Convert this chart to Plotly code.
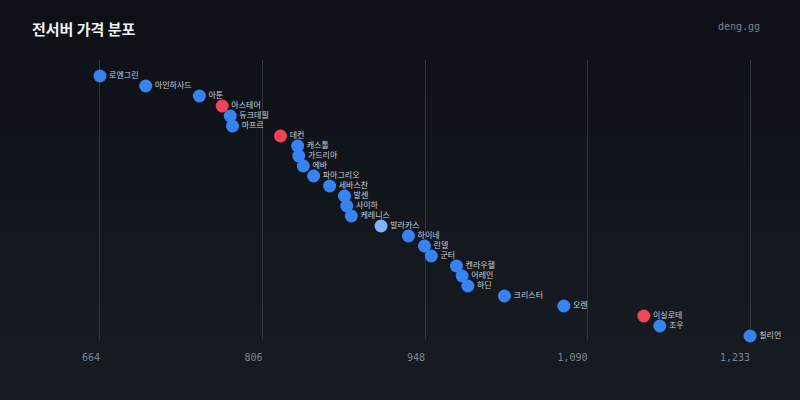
import plotly.graph_objects as go

# server names, sorted by price (low -> high)
servers = ['로엔그린', '아인하사드', '아툰', '아스테어', '듀크데필', '마프르', '데컨',
           '캐스톨', '가드리아', '에바', '파아그리오', '세바스찬', '발센', '사이하',
           '케레니스', '발라카스', '하이네', '린델', '군터', '켄라우헬', '어레인',
           '하딘', '크리스터', '오렌', '이실로테', '조우', '칠리언']
prices = [664, 704, 751, 771, 778, 780, 822, 837, 838, 842, 851, 865, 878, 880,
          884, 910, 934, 948, 954, 976, 981, 986, 1018, 1070, 1140, 1154, 1233]
red_servers = ['아스테어', '데컨', '이실로테']
light_servers = ['발라카스']
tick_vals = [664, 806.25, 948.5, 1090.75, 1233]
tick_text = ['664', '806', '948', '1,090', '1,233']

BLUE = '#3584f2'
RED = '#ef4459'
LIGHT = '#7db4f8'

colors = []
for s in servers:
    if s in red_servers:
        colors.append(RED)
    elif s in light_servers:
        colors.append(LIGHT)
    else:
        colors.append(BLUE)

fig = go.Figure()
fig.add_trace(go.Scatter(
    x=prices,
    y=list(range(len(servers))),
    mode='markers+text',
    text=servers,
    textposition='middle right',
    textfont=dict(family='Noto Sans CJK KR', size=8, color='#c9d1d9'),
    marker=dict(size=13, color=colors, line=dict(width=0)),
    cliponaxis=False,
    hoverinfo='skip',
))

# background gradient (dark top -> slightly lighter bottom)
top = (13, 17, 23)
bot = (23, 27, 34)
n = 24
shapes = []
for i in range(n):
    t = i / (n - 1)
    c = tuple(round(top[k] + (bot[k] - top[k]) * t) for k in range(3))
    y1 = 1.215 - i * (1.43 / n)
    y0 = y1 - 1.43 / n - 0.002
    shapes.append(dict(type='rect', xref='paper', yref='paper',
                       x0=-0.2, x1=1.2, y0=y0, y1=y1,
                       fillcolor='rgb(%d,%d,%d)' % c, line=dict(width=0),
                       layer='below'))

fig.update_layout(
    width=800, height=400,
    margin=dict(l=60, r=20, t=60, b=60),
    paper_bgcolor='#12161d',
    plot_bgcolor='rgba(0,0,0,0)',
    showlegend=False,
    shapes=shapes,
    xaxis=dict(
        range=[629.0, 1259.2],
        tickvals=tick_vals, ticktext=tick_text,
        ticklabelposition='outside left',
        showgrid=True, gridcolor='#30363d', gridwidth=1,
        zeroline=False, showline=False, ticks='',
        ticklabelstandoff=10,
        tickfont=dict(family='DejaVu Sans Mono', size=10, color='#7d8590'),
    ),
    yaxis=dict(range=[26.4, -1.6], visible=False),
    annotations=[
        dict(text='<b>전서버 가격 분포</b>', xref='paper', yref='paper',
             x=-0.042, y=1.114, xanchor='left', yanchor='middle', showarrow=False,
             font=dict(family='Noto Sans CJK KR', size=15, color='#f0f3f6')),
        dict(text='deng.gg', xref='paper', yref='paper',
             x=0.975, y=1.121, xanchor='right', yanchor='middle', showarrow=False,
             font=dict(family='DejaVu Sans Mono', size=10, color='#7d8590')),
    ],
)

fig.write_html('out.html', config={'displayModeBar': False},
               post_script="document.body.style.margin='0';")
